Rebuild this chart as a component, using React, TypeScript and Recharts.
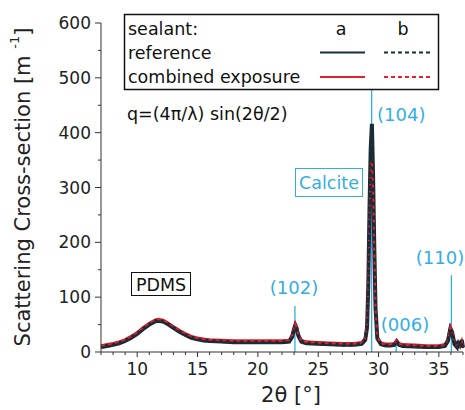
import React from 'react'
import { LineChart, Line, XAxis, YAxis, ReferenceLine } from 'recharts'

// 2θ positions (degrees)
const twoTheta = [
  7.0, 7.5, 8.0, 8.5, 9.0, 9.5, 10.0, 10.5, 11.0, 11.5, 11.8, 12.2, 12.6, 13.0, 13.5, 14.0, 14.5, 15.0, 15.5, 16.0,
  17.0, 18.0, 19.0, 20.0, 21.0, 22.0, 22.6, 22.85, 23.0, 23.1, 23.2, 23.35, 23.6, 24.0, 25.0, 26.0, 27.0, 28.0,
  28.6, 28.9, 29.05, 29.15, 29.25, 29.35, 29.45, 29.55, 29.65, 29.75, 29.9, 30.2, 30.6, 31.0, 31.3, 31.5, 31.7,
  32.0, 33.0, 34.0, 35.0, 35.5, 35.75, 35.95, 36.1, 36.3, 36.5, 36.6, 36.75, 36.9, 37.0,
]

// scattering cross-section [m^-1]
const referenceA = [
  9, 11, 13, 16, 20, 26, 33, 42, 50, 56, 57, 55, 50, 44, 37, 31, 26, 23, 21, 20,
  19, 18, 18, 18, 18, 18, 19, 28, 42, 48, 44, 30, 19, 16, 15, 14, 13, 13,
  15, 22, 45, 120, 260, 370, 416, 320, 190, 80, 25, 14, 12, 12, 13, 19, 13,
  11, 10, 9, 9, 11, 20, 42, 36, 14, 9, 20, 8, 22, 8,
]
const referenceB = [
  8, 10, 12, 15, 19, 25, 32, 41, 49, 55, 56, 54, 49, 43, 36, 30, 25, 22, 20, 19,
  18, 17, 17, 17, 17, 17, 18, 26, 40, 45, 42, 28, 18, 15, 14, 13, 12, 12,
  14, 20, 40, 110, 250, 360, 405, 330, 200, 85, 27, 13, 11, 11, 12, 18, 12,
  10, 9, 8, 8, 10, 18, 38, 34, 13, 8, 17, 7, 18, 7,
]
const combinedA = [
  12, 14, 16, 19, 23, 29, 36, 45, 53, 59, 60, 58, 53, 47, 40, 34, 29, 26, 24, 23,
  22, 21, 21, 21, 21, 21, 22, 32, 46, 53, 48, 33, 22, 19, 18, 17, 16, 16,
  18, 25, 50, 130, 270, 380, 412, 310, 180, 75, 26, 17, 15, 15, 16, 22, 16,
  14, 13, 12, 12, 14, 24, 47, 39, 16, 11, 18, 10, 20, 10,
]
const combinedB = [
  11, 13, 15, 18, 22, 28, 35, 44, 52, 58, 59, 57, 52, 46, 39, 33, 28, 25, 23, 22,
  21, 20, 20, 20, 20, 20, 21, 30, 44, 51, 46, 31, 21, 18, 17, 16, 15, 15,
  17, 24, 48, 125, 255, 340, 350, 300, 185, 78, 27, 16, 14, 14, 15, 21, 15,
  13, 12, 11, 11, 13, 22, 45, 38, 15, 10, 16, 9, 17, 9,
]

// calcite reflections: position and height of the marker line
const peakNames = ['(102)', '(104)', '(006)', '(110)']
const peakPos = [23.07, 29.43, 31.46, 36.04]
const peakLineTop = [84, 479, 16, 140]

const xTicks = Array.from({ length: 31 }, (_, i) => 7 + i)
const yTicks = Array.from({ length: 13 }, (_, i) => i * 50)

const data = twoTheta.map((t, i) => ({
  t, refA: referenceA[i], refB: referenceB[i], combA: combinedA[i], combB: combinedB[i],
}))

const FONT = "'DejaVu Sans', Verdana, sans-serif"
const AXIS = '#333'
const DARK = '#1b2c37'
const RED = '#e3202b'
const CYAN = '#33ade6'

const XTick = (props: any) => {
  const { x, y, payload } = props
  const major = payload.value % 5 === 0
  return (
    <g>
      <line x1={x} x2={x} y1={y} y2={y + (major ? 5 : 3)} stroke={AXIS} strokeWidth={1} />
      {major && (
        <text x={x} y={y + 23} textAnchor="middle" fill="#222" fontSize={17} fontFamily={FONT}>
          {payload.value}
        </text>
      )}
    </g>
  )
}

const YTick = (props: any) => {
  const { x, y, payload } = props
  const major = payload.value % 100 === 0
  return (
    <g>
      <line x1={x - (major ? 6 : 3)} x2={x} y1={y} y2={y} stroke={AXIS} strokeWidth={1} />
      {major && (
        <text x={x - 10} y={y + 6} textAnchor="end" fill="#222" fontSize={17} fontFamily={FONT}>
          {payload.value}
        </text>
      )}
    </g>
  )
}

export default function App() {
  return (
    <div style={{ position: 'absolute', left: 0, top: 0, width: 465, height: 410, background: '#fff' }}>
      <LineChart width={465} height={410} data={data} margin={{ top: 23, right: 2, bottom: 0, left: 0 }}>
        <XAxis
          dataKey="t" type="number" domain={[7, 37]} ticks={xTicks} interval={0}
          height={58} tickSize={0} tickMargin={0} tickLine={false}
          axisLine={{ stroke: AXIS }} tick={XTick}
        />
        <YAxis
          type="number" domain={[0, 600]} ticks={yTicks} interval={0}
          width={101} tickSize={0} tickMargin={0} tickLine={false}
          axisLine={{ stroke: AXIS }} tick={YTick}
        />
        {peakPos.map((p, i) => (
          <ReferenceLine
            key={peakNames[i]}
            segment={[{ x: p, y: 0 }, { x: p, y: peakLineTop[i] }]}
            stroke={CYAN} strokeWidth={1.3}
          />
        ))}
        <Line dataKey="combA" stroke={RED} strokeWidth={2.5} dot={false} isAnimationActive={false} />
        <Line dataKey="refA" stroke={DARK} strokeWidth={4} dot={false} isAnimationActive={false} />
        <Line dataKey="combB" stroke={RED} strokeWidth={2} strokeDasharray="4 3" dot={false} isAnimationActive={false} />
        <Line dataKey="refB" stroke={DARK} strokeWidth={2} strokeDasharray="4 3" dot={false} isAnimationActive={false} />
      </LineChart>

      <svg width={465} height={410} style={{ position: 'absolute', left: 0, top: 0, pointerEvents: 'none' }}
        fontFamily={FONT}>
        {/* axis titles */}
        <text x={23} y={187} transform="rotate(-90 23 187)" textAnchor="middle" dominantBaseline="central"
          fontSize={21} fill="#222">
          Scattering Cross-section [m <tspan fontSize={13} dy={-9}>-1</tspan><tspan dy={9}>]</tspan>
        </text>
        <text x={291} y={402} textAnchor="middle" fontSize={21} fill="#222">2θ [°]</text>

        {/* legend */}
        <rect x={124.5} y={14.5} width={314} height={75} fill="#fff" stroke="#111" strokeWidth={1.5} />
        <g fontSize={17.5} fill="#111">
          <text x={128} y={35}>sealant:</text>
          <text x={341} y={35} textAnchor="middle">a</text>
          <text x={403} y={35} textAnchor="middle">b</text>
          <text x={128} y={58.5}>reference</text>
          <text x={128} y={83}>combined exposure</text>
        </g>
        <line x1={320} x2={365} y1={52.5} y2={52.5} stroke={DARK} strokeWidth={2} />
        <line x1={384} x2={430} y1={52.5} y2={52.5} stroke={DARK} strokeWidth={2} strokeDasharray="4 3" />
        <line x1={320} x2={365} y1={77} y2={77} stroke={RED} strokeWidth={2} />
        <line x1={384} x2={430} y1={77} y2={77} stroke={RED} strokeWidth={2} strokeDasharray="4 3" />

        {/* annotations */}
        <text x={127} y={120} fontSize={17.5} fill="#111">q=(4π/λ) sin(2θ/2)</text>
        <rect x={295.5} y={168.5} width={67} height={28} fill="#fff" stroke={CYAN} strokeWidth={1} />
        <text x={329} y={189} textAnchor="middle" fontSize={17.5} fill={CYAN}>Calcite</text>
        <rect x={131.5} y={272.5} width={59} height={23} fill="#fff" stroke="#111" strokeWidth={1} />
        <text x={161} y={290.5} textAnchor="middle" fontSize={17.5} fill="#111">PDMS</text>

        <g fontSize={18} fill={CYAN}>
          <text x={377} y={121}>(104)</text>
          <text x={294} y={294} textAnchor="middle">(102)</text>
          <text x={405} y={331} textAnchor="middle">(006)</text>
          <text x={440} y={264} textAnchor="middle">(110)</text>
        </g>
      </svg>
    </div>
  )
}
